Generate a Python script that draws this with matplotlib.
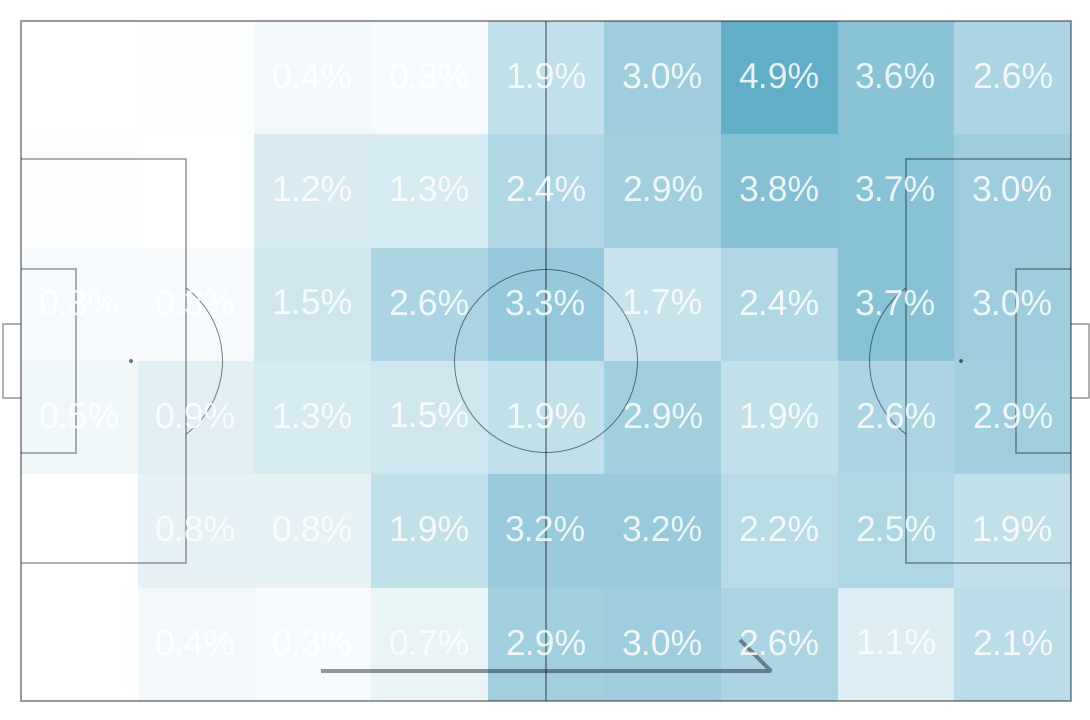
#!/usr/bin/env python3
"""Zone heat map of a football pitch, share of actions per zone."""
import matplotlib
matplotlib.use('Agg')
import matplotlib.pyplot as plt
import numpy as np
from matplotlib.colors import LinearSegmentedColormap
from matplotlib.patches import Arc, Circle, Rectangle

row_1 = [0.0, 0.1, 0.4, 0.3, 1.9, 3.0, 4.9, 3.6, 2.6]
row_2 = [0.1, 0.0, 1.2, 1.3, 2.4, 2.9, 3.8, 3.7, 3.0]
row_3 = [0.3, 0.3, 1.5, 2.6, 3.3, 1.7, 2.4, 3.7, 3.0]
row_4 = [0.5, 0.9, 1.3, 1.5, 1.9, 2.9, 1.9, 2.6, 2.9]
row_5 = [0.0, 0.8, 0.8, 1.9, 3.2, 3.2, 2.2, 2.5, 1.9]
row_6 = [0.0, 0.4, 0.3, 0.7, 2.9, 3.0, 2.6, 1.1, 2.1]

pitch_length = 105
pitch_width = 68
line_color = '#000000'
line_alpha = 0.4

plt.rcParams['font.family'] = ['Liberation Sans', 'DejaVu Sans']
plt.rcParams['text.hinting'] = 'none'

zones = np.array([row_1, row_2, row_3, row_4, row_5, row_6])
n_rows, n_cols = zones.shape
x_edges = np.linspace(0, pitch_length, n_cols + 1)
y_edges = np.linspace(pitch_width, 0, n_rows + 1)
x_mid = (x_edges[:-1] + x_edges[1:]) / 2
y_mid = (y_edges[:-1] + y_edges[1:]) / 2

fig = plt.figure(figsize=(10.9, 7.2), dpi=100)
ax = fig.add_axes([0, 0, 1, 1])
cmap = LinearSegmentedColormap.from_list('zones', ['#ffffff', '#62aec8'])
ax.pcolormesh(x_edges, y_edges, zones, cmap=cmap, vmin=0, vmax=zones.max(),
              antialiased=False, zorder=1)


def goal_box(left, depth, half_h, lw=1.1):
    # three sides only, the fourth one is the goal line
    ax.plot([left, left + depth, left + depth, left],
            [mid_y - half_h, mid_y - half_h, mid_y + half_h, mid_y + half_h],
            color=line_color, alpha=line_alpha, lw=lw, zorder=2,
            solid_joinstyle='miter', solid_capstyle='butt')


mid_y = pitch_width / 2
# outer lines and halfway line
ax.add_patch(Rectangle((0, 0), pitch_length, pitch_width, fill=False,
                       ec=line_color, alpha=line_alpha, lw=1.4, zorder=2))
ax.plot([pitch_length / 2] * 2, [0, pitch_width], color=line_color,
        alpha=line_alpha, lw=1.25, solid_capstyle='butt', zorder=2)
ax.add_patch(Circle((pitch_length / 2, mid_y), 9.15, fill=False, ec=line_color,
                    alpha=0.5, lw=0.7, zorder=2))

for left, sign in [(0, 1), (pitch_length, -1)]:
    goal_box(left, sign * 16.5, 20.16)
    goal_box(left, sign * 5.5, 9.16)
    goal_box(left, -sign * 1.8, 3.66)
    spot = left + sign * 11
    ax.add_patch(Circle((spot, mid_y), 0.2, fc=line_color, ec='none',
                        alpha=0.55, zorder=2))
    start = -53.1 if sign == 1 else 180 - 53.1
    ax.add_patch(Arc((spot, mid_y), 18.3, 18.3, theta1=start, theta2=start + 106.2,
                     ec=line_color, alpha=0.5, lw=0.7, zorder=2))

# attacking direction, half arrow head
ax.plot([30, 75, 71.9], [3, 3, 6.1], color=line_color, alpha=line_alpha, lw=2.9,
        solid_capstyle='butt', solid_joinstyle='bevel', zorder=2)

for i in range(n_rows):
    for j in range(n_cols):
        if zones[i, j] > 0:
            ax.text(x_mid[j] - 0.03, y_mid[i] - 1.0, '%.1f%%' % zones[i, j],
                    color='white', alpha=0.85, fontsize=25.7, ha='center',
                    va='baseline', zorder=3)

ax.set_xlim(-2.1, 106.9)
ax.set_ylim(-1.9, 70.1)
ax.axis('off')
fig.savefig('out.png', dpi=100)
